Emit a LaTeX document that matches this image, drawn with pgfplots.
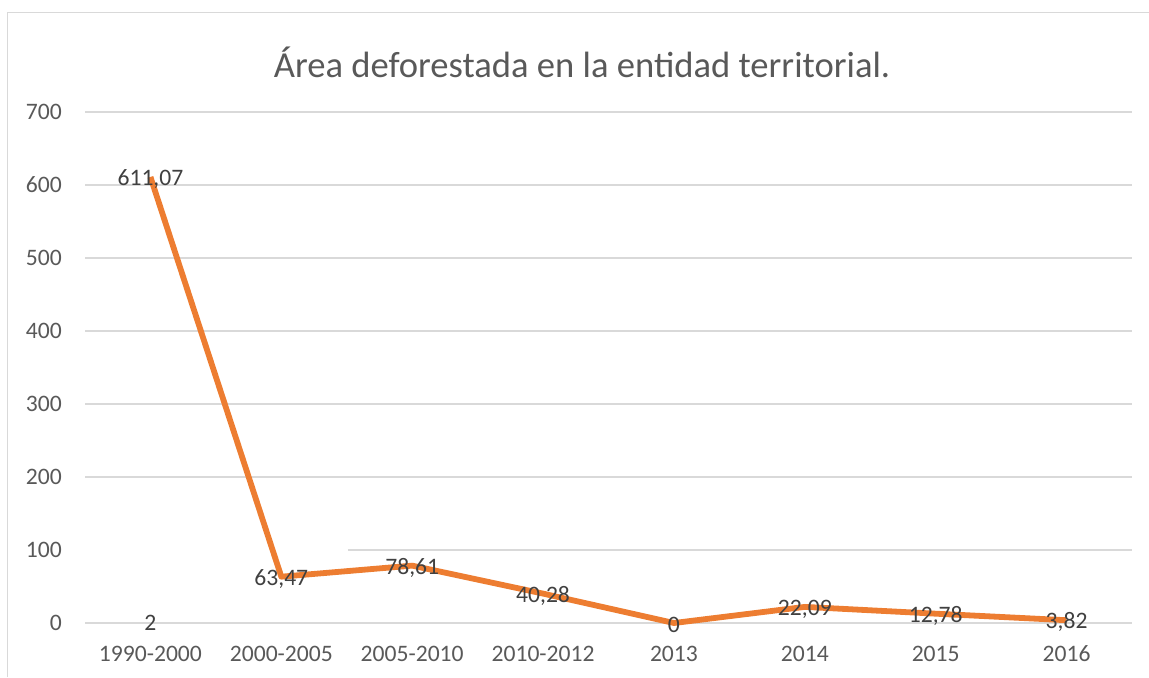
\documentclass[border=0pt]{standalone}
\usepackage{fontspec}
\setmainfont{Carlito}
\usepackage{pgfplots}
\pgfplotsset{compat=1.18}
\definecolor{orangeL}{HTML}{ED7D31}
\definecolor{gridc}{HTML}{D9D9D9}
\definecolor{tickc}{HTML}{595959}
\definecolor{labc}{HTML}{404040}
\begin{document}
\begin{tikzpicture}
\path[use as bounding box] (-42.5pt,-27pt) rectangle (532pt,311.5pt);
\draw[gridc, line width=0.75pt] (-38.75pt,-27pt) -- (-38.75pt,305.25pt) -- (532pt,305.25pt);
\begin{axis}[
 at={(0,0)}, anchor=south west, scale only axis,
 width=523.5pt, height=255.5pt,
 xmin=-0.5, xmax=7.5, ymin=0, ymax=700,
 xtick={0,...,7},
 xticklabels={1990-2000,2000-2005,2005-2010,2010-2012,2013,2014,2015,2016},
 ytick={0,200,300,400,500,600,700},
 extra y ticks={100}, extra y tick style={grid=none},
 ymajorgrids, grid style={gridc, line width=0.65pt},
 axis line style={draw=none}, major tick length=0,
 tick label style={font=\fontsize{11.8}{14}\selectfont, text=tickc},
 /pgf/number format/assume math mode=true,
 yticklabel style={xshift=-8.1pt},
 xticklabel style={yshift=-7.9pt},
 clip=false,
]
\draw[gridc, line width=0.65pt] (axis cs:1.508,100) -- (axis cs:7.5,100);
\addplot[orangeL, line width=2.9pt, line join=round, nodes near coords,
  point meta=explicit symbolic,
  nodes near coords style={anchor=center, yshift=-1pt, text=labc, font=\fontsize{11.8}{14}\selectfont}]
  table[meta=label] {
x y label
0 611.07 611,07
1 63.47 63,47
2 78.61 78,61
3 40.28 40,28
4 0 0
5 22.09 22,09
6 12.78 12,78
7 3.82 3,82
};
\addplot[draw=none, nodes near coords, point meta=explicit symbolic,
  nodes near coords style={anchor=center, text=labc, font=\fontsize{11.8}{14}\selectfont}]
  table[meta=label] {
x y label
0 0 2
};
\end{axis}
\node[text=tickc, font=\fontsize{18.3}{22}\selectfont] at (248.5pt,280.5pt) {Área deforestada en la entidad territorial.};
\end{tikzpicture}
\end{document}
